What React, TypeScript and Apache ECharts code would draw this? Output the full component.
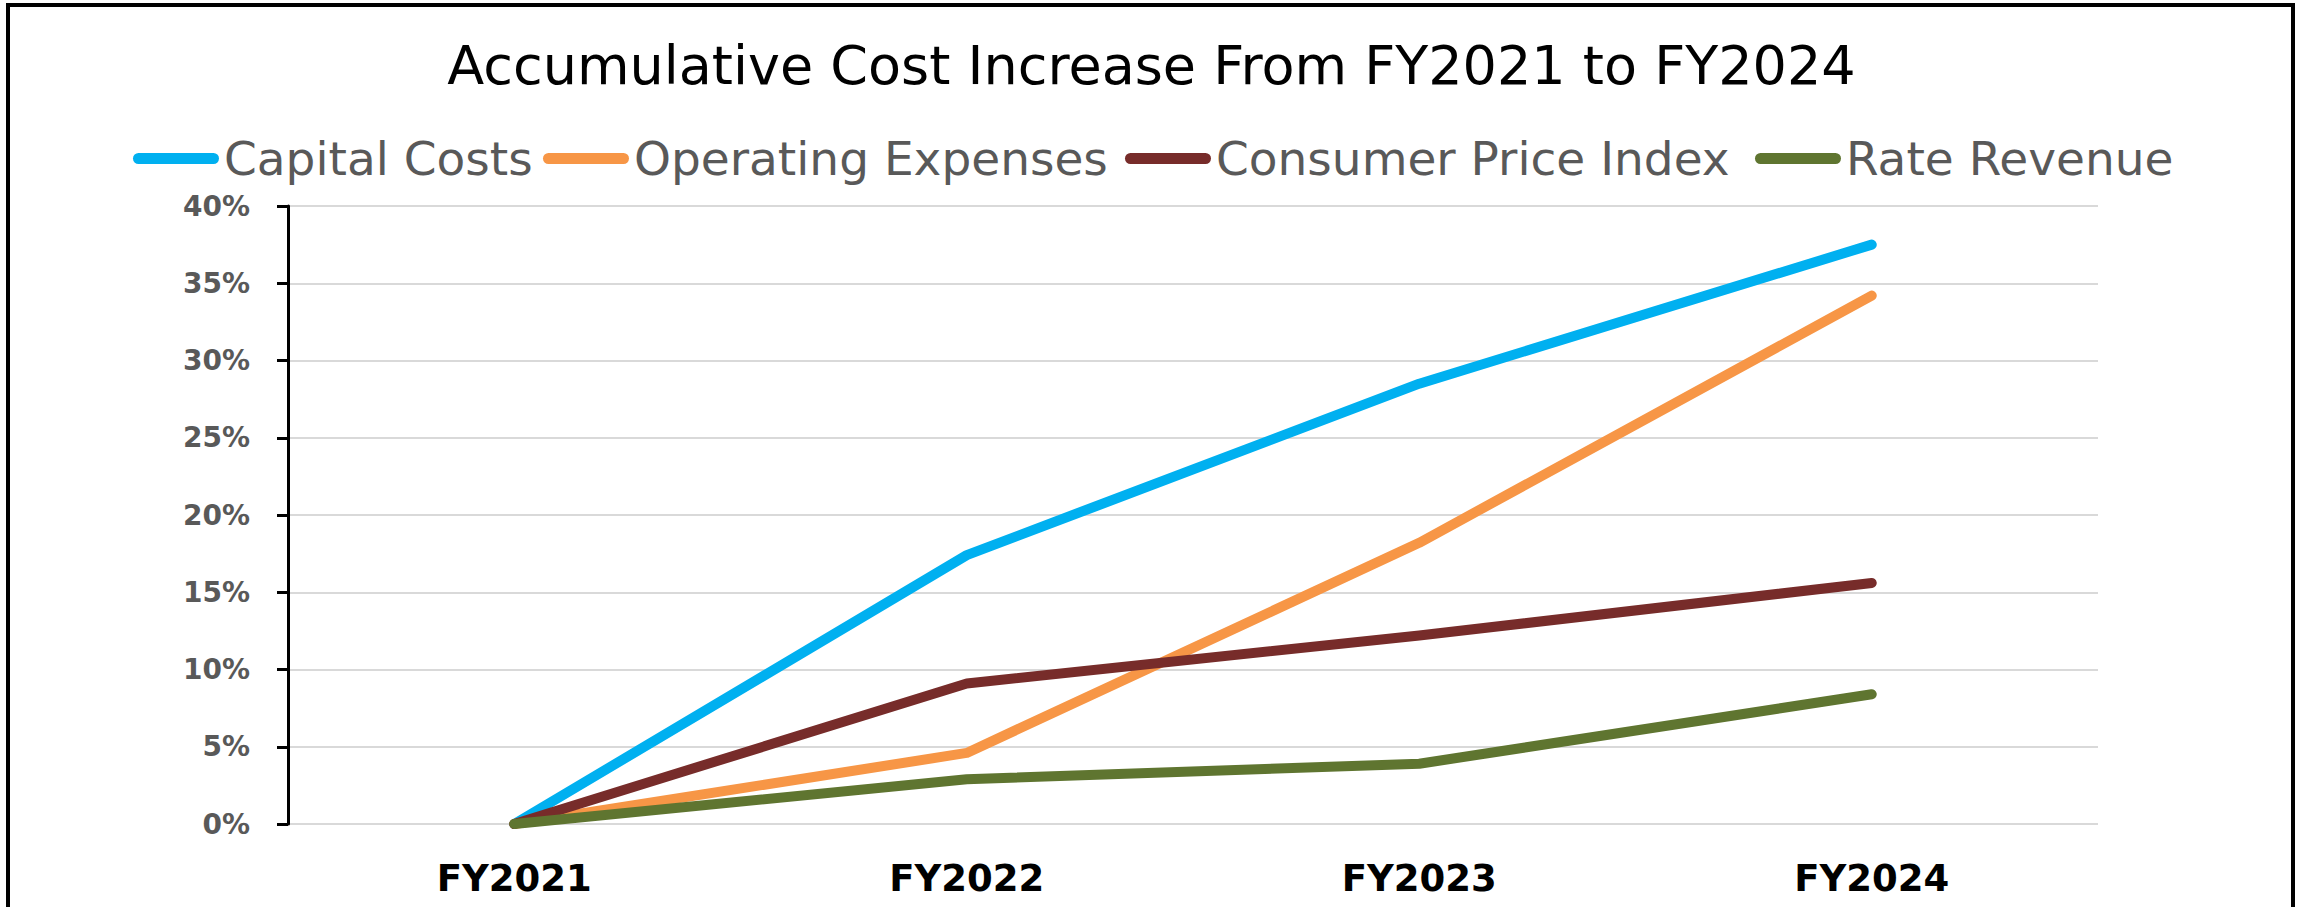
import React, { useEffect, useRef } from "react";
import * as echarts from "echarts";

const categories = ["FY2021", "FY2022", "FY2023", "FY2024"];
const capitalCosts = [0, 17.4, 28.5, 37.5];
const operatingExpenses = [0, 4.6, 18.2, 34.2];
const consumerPriceIndex = [0, 9.1, 12.2, 15.6];
const rateRevenue = [0, 2.9, 3.9, 8.4];
const seriesNames = ["Capital Costs", "Operating Expenses", "Consumer Price Index", "Rate Revenue"];
const seriesColors = ["#00B0F0", "#F79646", "#772C2A", "#5F7530"];
const seriesData = [capitalCosts, operatingExpenses, consumerPriceIndex, rateRevenue];
const legendLefts = [128, 538, 1120, 1750];

export default function App() {
  const ref = useRef<HTMLDivElement>(null);
  useEffect(() => {
    if (!ref.current) return;
    const chart = echarts.init(ref.current, undefined, { renderer: "svg" });
    const icon = "path://M5.5,0 H80.5 A5.5,5.5 0 0 1 80.5,11 H5.5 A5.5,5.5 0 0 1 5.5,0 Z";
    chart.setOption({
      animation: false,
      backgroundColor: "#ffffff",
      title: {
        text: "Accumulative Cost Increase From FY2021 to FY2024",
        left: "center",
        top: 33,
        textStyle: { fontFamily: "DejaVu Sans", fontSize: 54, fontWeight: "normal", color: "#000000" },
      },
      legend: seriesNames.map((n, i) => ({
        data: [n],
        left: legendLefts[i],
        top: 130,
        icon,
        itemWidth: 86,
        itemHeight: 11,
        itemStyle: { borderWidth: 0 },
        textStyle: { fontFamily: "DejaVu Sans", fontSize: 47, color: "#595959" },
        selectedMode: false,
      })),
      grid: { left: 288, right: 205, top: 206, bottom: 83, containLabel: false },
      xAxis: {
        type: "category",
        data: categories,
        boundaryGap: true,
        axisLine: { show: false },
        axisTick: { show: false },
        axisLabel: {
          margin: 36,
          fontFamily: "DejaVu Sans",
          fontWeight: "bold",
          fontSize: 37,
          color: "#000000",
        },
      },
      yAxis: {
        type: "value",
        min: 0,
        max: 40,
        interval: 5,
        axisLine: { show: true, lineStyle: { color: "#000000", width: 3 } },
        axisTick: { show: true, length: 11, lineStyle: { color: "#000000", width: 3 } },
        axisLabel: {
          margin: 38,
          formatter: "{value}%",
          fontFamily: "DejaVu Sans",
          fontWeight: "bold",
          fontSize: 28,
          color: "#595959",
        },
        splitLine: { show: true, lineStyle: { color: "#D9D9D9", width: 2 } },
      },
      series: seriesNames.map((n, i) => ({
        name: n,
        type: "line",
        data: seriesData[i],
        showSymbol: false,
        symbol: "none",
        color: seriesColors[i],
        lineStyle: { color: seriesColors[i], width: 10, cap: "round", join: "round" },
      })),
      graphic: [
        {
          type: "rect",
          shape: { x: 8, y: 5, width: 2285, height: 1000 },
          style: { fill: "none", stroke: "#000000", lineWidth: 4 },
          silent: true,
          z: 100,
        },
      ],
    });
    return () => chart.dispose();
  }, []);
  return (
    <div
      ref={ref}
      style={{ position: "absolute", left: 0, top: 0, width: 2303, height: 907 }}
    />
  );
}
